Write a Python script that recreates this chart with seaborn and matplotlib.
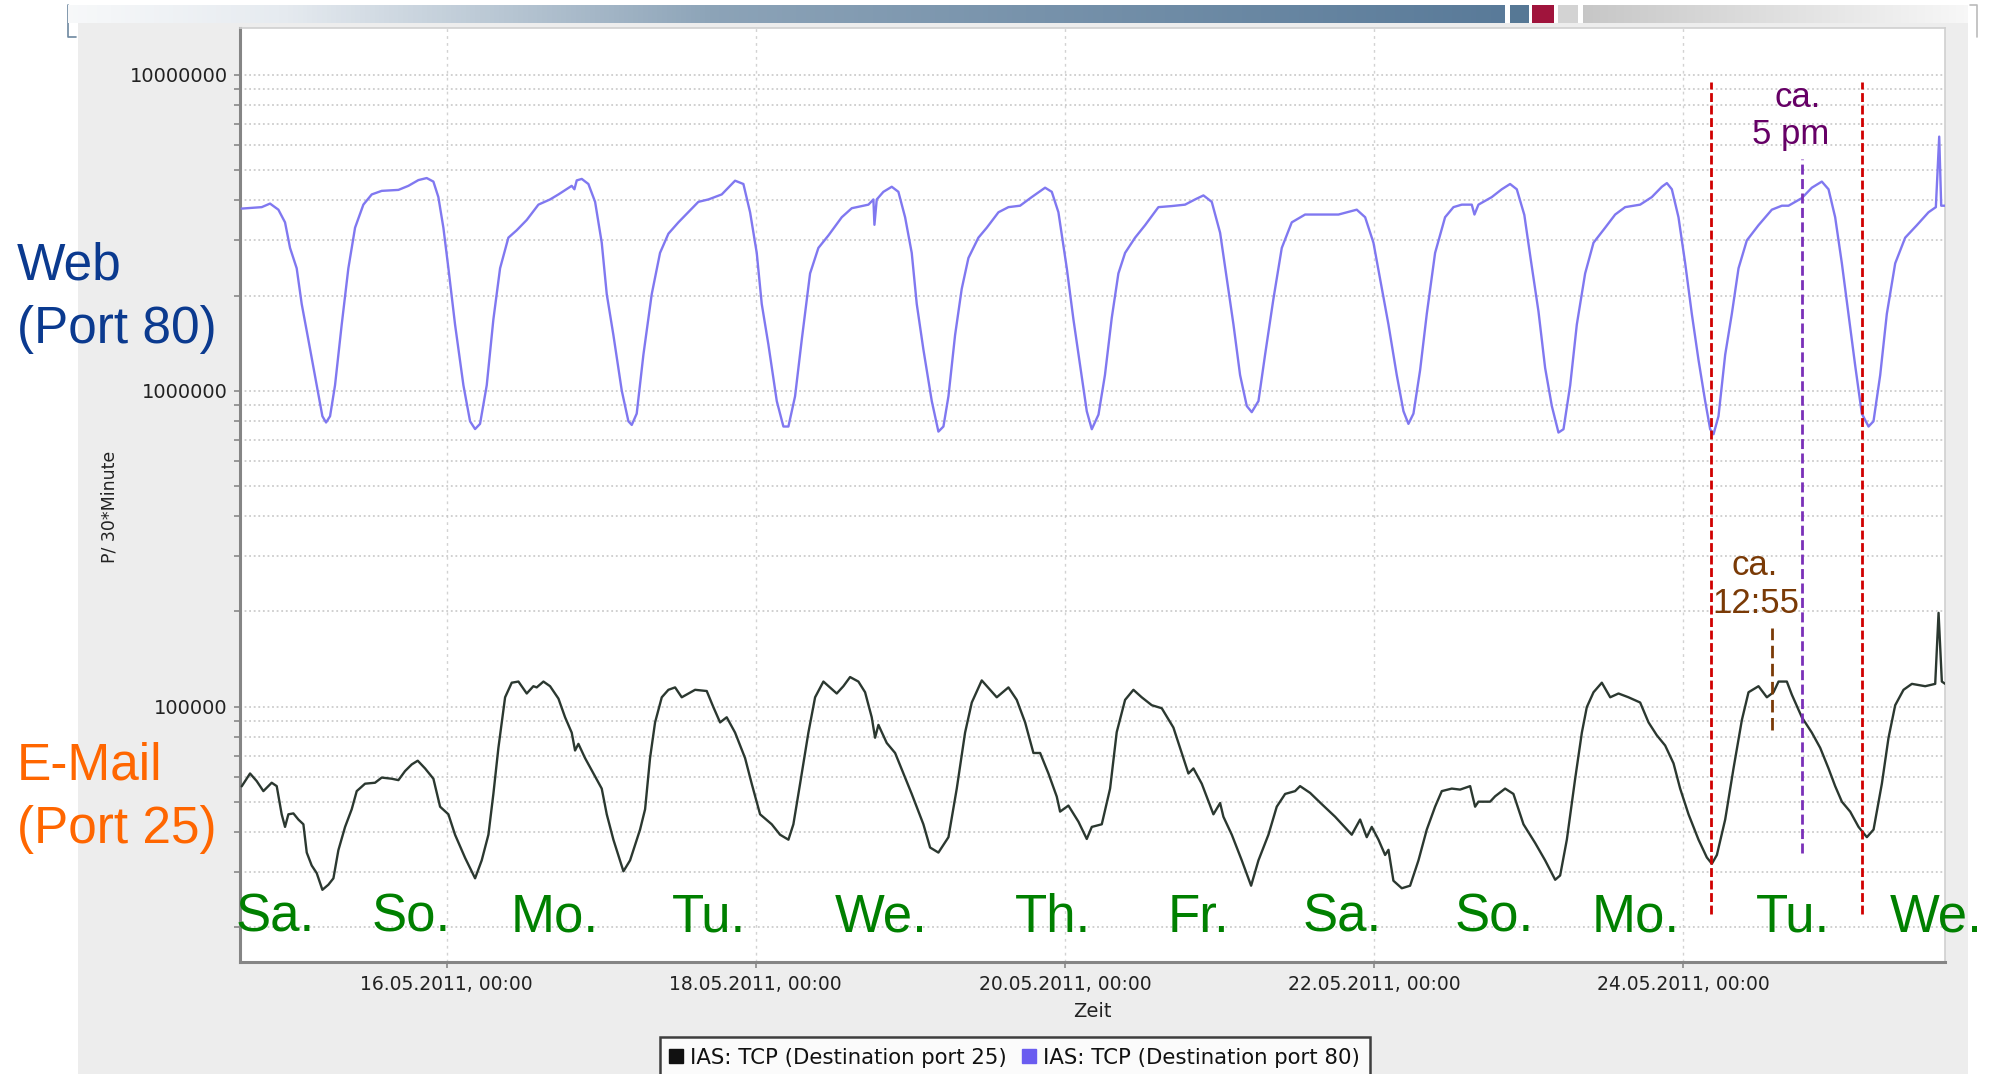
import numpy as np
import pandas as pd
import matplotlib
matplotlib.use("Agg")
import matplotlib.pyplot as plt
import matplotlib.dates as mdates
from matplotlib.lines import Line2D
from matplotlib.patches import Rectangle
from matplotlib.ticker import FixedLocator, FuncFormatter, NullFormatter, LogLocator
import seaborn as sns

# ---------------- data ----------------
BASE = "2011-05-16 00:00"          # hours below are relative to this instant

web_hours = [-31.8, -28.69, -27.4, -26.1, -25.07, -24.29, -23.26, -22.48, -21.45, -20.15,
             -19.27, -18.7, -18.08, -17.31, -16.27, -15.24, -14.2, -12.91, -11.61, -10.06,
             -7.47, -5.92, -4.37, -3.08, -2.04, -1.27, -0.49, 0.29, 1.32, 2.62,
             3.65, 4.43, 5.2, 6.24, 7.27, 8.31, 9.6, 10.9, 12.45, 14.26,
             16.07, 17.37, 19.43, 19.85, 20.21, 20.99, 22.02, 23.06, 24.09, 24.87,
             25.9, 27.2, 28.23, 28.75, 29.52, 30.56, 31.85, 33.14, 34.44, 35.99,
             39.09, 40.65, 42.72, 44.79, 46.08, 47.12, 48.15, 48.93, 49.96, 51.26,
             52.29, 53.07, 54.1, 55.14, 56.43, 57.72, 59.28, 61.35, 62.9, 65.49,
             66.26, 66.42, 66.78, 67.81, 69.11, 70.14, 71.18, 72.21, 72.99, 74.02,
             75.32, 76.35, 77.13, 77.91, 78.94, 79.97, 81.01, 82.56, 83.86, 85.67,
             87.22, 89.03, 90.84, 92.91, 93.95, 94.98, 96.28, 97.31, 98.35, 99.38,
             100.16, 101.2, 102.2, 103.26, 104.29, 105.33, 106.88, 108.43, 110.5, 112.57,
             114.64, 116.19, 117.49, 118.78, 120.08, 121.11, 122.15, 123.18, 124.22, 124.99,
             126.03, 127.06, 128.35, 129.65, 131.2, 133.27, 135.86, 138.45, 141.29, 142.59,
             143.88, 144.91, 146.21, 147.5, 148.54, 149.31, 150.09, 151.12, 152.16, 153.45,
             155.0, 156.3, 157.59, 159.14, 159.56, 160.18, 162.25, 163.8, 165.09, 166.13,
             167.3, 168.3, 169.5, 170.53, 171.57, 172.6, 173.38, 174.42, 175.45, 176.74,
             178.04, 179.85, 181.4, 182.95, 185.28, 187.09, 188.65, 189.43, 190.2, 191.23,
             192.27, 193.3, 194.34, 195.37, 196.15, 196.67, 197.44, 198.48, 199.51, 200.55,
             201.84, 203.65, 205.72, 207.28, 208.31, 210.38, 211.93, 213.48, 214.52, 215.55,
             216.59, 217.62, 218.66, 219.69, 220.73, 221.5, 222.54, 223.57, 224.87, 226.42,
             228.23, 230.04, 231.18, 231.7, 232.01, 232.63]
web_values = [3.77e6, 3.81e6, 3.91e6, 3.74e6, 3.41e6, 2.83e6, 2.44e6, 1.88e6, 1.45e6, 1.04e6,
              8.30e5, 7.93e5, 8.30e5, 1.04e6, 1.62e6, 2.44e6, 3.28e6, 3.88e6, 4.18e6, 4.29e6,
              4.32e6, 4.45e6, 4.64e6, 4.71e6, 4.59e6, 4.10e6, 3.28e6, 2.44e6, 1.62e6, 1.04e6,
              8.0e5, 7.56e5, 7.85e5, 1.04e6, 1.68e6, 2.44e6, 3.05e6, 3.22e6, 3.47e6, 3.88e6,
              4.03e6, 4.18e6, 4.45e6, 4.34e6, 4.63e6, 4.68e6, 4.51e6, 3.96e6, 2.94e6, 2.02e6,
              1.50e6, 1.0e6, 8.0e5, 7.79e5, 8.46e5, 1.30e6, 2.02e6, 2.73e6, 3.14e6, 3.41e6,
              3.96e6, 4.03e6, 4.18e6, 4.62e6, 4.51e6, 3.67e6, 2.73e6, 1.88e6, 1.40e6, 9.27e5,
              7.7e5, 7.7e5, 9.6e5, 1.45e6, 2.35e6, 2.83e6, 3.10e6, 3.54e6, 3.78e6, 3.88e6,
              4.03e6, 3.35e6, 4.03e6, 4.26e6, 4.42e6, 4.26e6, 3.54e6, 2.73e6, 1.88e6, 1.35e6,
              9.27e5, 7.42e5, 7.7e5, 9.6e5, 1.50e6, 2.10e6, 2.63e6, 3.05e6, 3.28e6, 3.67e6,
              3.81e6, 3.85e6, 4.10e6, 4.39e6, 4.26e6, 3.67e6, 2.44e6, 1.68e6, 1.20e6, 8.61e5,
              7.55e5, 8.4e5, 1.12e6, 1.70e6, 2.35e6, 2.73e6, 3.05e6, 3.34e6, 3.81e6, 3.84e6,
              3.88e6, 4.03e6, 4.15e6, 3.96e6, 3.16e6, 2.26e6, 1.62e6, 1.12e6, 8.94e5, 8.55e5,
              9.27e5, 1.30e6, 1.95e6, 2.83e6, 3.41e6, 3.61e6, 3.61e6, 3.61e6, 3.74e6, 3.54e6,
              2.94e6, 2.26e6, 1.62e6, 1.12e6, 8.61e5, 7.85e5, 8.46e5, 1.16e6, 1.75e6, 2.73e6,
              3.54e6, 3.81e6, 3.88e6, 3.88e6, 3.61e6, 3.88e6, 4.10e6, 4.34e6, 4.51e6, 4.34e6,
              3.6e6, 2.6e6, 1.78e6, 1.18e6, 8.94e5, 7.37e5, 7.55e5, 1.04e6, 1.62e6, 2.35e6,
              2.94e6, 3.28e6, 3.61e6, 3.81e6, 3.88e6, 4.10e6, 4.42e6, 4.54e6, 4.34e6, 3.54e6,
              2.53e6, 1.75e6, 1.25e6, 9.27e5, 7.55e5, 7.28e5, 8.30e5, 1.30e6, 1.75e6, 2.44e6,
              2.99e6, 3.34e6, 3.74e6, 3.85e6, 3.85e6, 4.07e6, 4.39e6, 4.59e6, 4.34e6, 3.54e6,
              2.53e6, 1.75e6, 1.20e6, 8.46e5, 7.7e5, 8.0e5, 1.12e6, 1.75e6, 2.53e6, 3.05e6,
              3.34e6, 3.67e6, 3.81e6, 6.37e6, 3.85e6, 3.85e6]

mail_hours = [-31.8, -30.5, -29.47, -28.43, -27.14, -26.36, -25.59, -25.07, -24.55, -23.77,
              -23.0, -22.22, -21.7, -20.93, -20.15, -19.27, -18.34, -17.56, -16.79, -15.75,
              -14.72, -13.94, -12.65, -11.1, -10.06, -8.51, -7.47, -6.44, -5.4, -4.47,
              -3.33, -2.04, -1.0, 0.29, 1.32, 2.88, 4.43, 5.46, 6.5, 7.27,
              8.05, 9.09, 10.12, 11.16, 12.45, 13.48, 14.0, 15.04, 16.07, 17.37,
              18.4, 19.43, 19.95, 20.47, 21.5, 22.8, 24.09, 24.87, 25.9, 27.46,
              28.49, 30.04, 30.82, 31.59, 32.37, 33.41, 34.44, 35.48, 36.51, 38.58,
              40.39, 41.42, 42.46, 43.49, 44.79, 46.34, 47.37, 48.67, 50.48, 51.77,
              53.07, 53.84, 54.88, 56.17, 57.21, 58.5, 60.57, 61.6, 62.64, 63.93,
              64.97, 66.0, 66.52, 67.04, 68.33, 69.63, 70.92, 72.21, 74.02, 75.06,
              76.35, 77.91, 79.2, 80.49, 81.53, 83.08, 84.37, 85.41, 87.22, 88.51,
              89.81, 91.1, 92.14, 93.43, 94.72, 95.24, 96.53, 98.09, 99.38, 100.16,
              101.71, 103.0, 104.03, 105.33, 106.62, 107.91, 109.47, 111.02, 112.83, 114.12,
              115.16, 115.94, 117.23, 119.04, 120.08, 120.59, 121.89, 123.44, 124.89, 126.03,
              127.58, 128.87, 130.17, 131.72, 132.49, 134.05, 135.86, 137.93, 140.51, 141.81,
              142.84, 143.62, 144.66, 145.69, 146.21, 146.98, 148.28, 149.57, 150.87, 152.16,
              153.45, 154.49, 156.04, 157.33, 158.89, 159.66, 160.18, 161.99, 162.77, 164.32,
              165.61, 167.17, 168.98, 170.53, 172.09, 172.86, 173.9, 175.19, 176.23, 177.0,
              178.04, 179.33, 180.63, 181.92, 183.47, 185.28, 186.58, 187.87, 189.16, 190.46,
              191.49, 192.79, 194.34, 195.63, 196.41, 197.19, 198.48, 199.77, 201.07, 202.1,
              203.65, 204.95, 205.98, 206.76, 208.05, 208.83, 210.38, 211.93, 213.23, 214.52,
              215.55, 216.59, 217.88, 219.18, 220.47, 221.51, 222.8, 223.83, 224.87, 226.16,
              227.46, 229.53, 231.08, 231.6, 232.11, 232.63]
mail_values = [5.59e4, 6.14e4, 5.81e4, 5.40e4, 5.74e4, 5.60e4, 4.56e4, 4.16e4, 4.56e4, 4.59e4,
               4.39e4, 4.24e4, 3.45e4, 3.14e4, 2.97e4, 2.63e4, 2.73e4, 2.86e4, 3.51e4, 4.16e4,
               4.73e4, 5.40e4, 5.70e4, 5.74e4, 5.96e4, 5.91e4, 5.85e4, 6.25e4, 6.56e4, 6.74e4,
               6.37e4, 5.91e4, 4.82e4, 4.56e4, 3.93e4, 3.32e4, 2.86e4, 3.26e4, 3.93e4, 5.29e4,
               7.40e4, 1.07e5, 1.19e5, 1.20e5, 1.10e5, 1.16e5, 1.15e5, 1.20e5, 1.16e5, 1.06e5,
               9.25e4, 8.27e4, 7.26e4, 7.62e4, 6.87e4, 6.14e4, 5.50e4, 4.56e4, 3.79e4, 3.01e4,
               3.26e4, 4.08e4, 4.73e4, 6.87e4, 8.91e4, 1.07e5, 1.13e5, 1.15e5, 1.07e5, 1.13e5,
               1.12e5, 9.96e4, 8.91e4, 9.25e4, 8.27e4, 6.87e4, 5.70e4, 4.56e4, 4.24e4, 3.93e4,
               3.79e4, 4.24e4, 5.70e4, 8.27e4, 1.07e5, 1.20e5, 1.10e5, 1.16e5, 1.24e5, 1.20e5,
               1.11e5, 9.25e4, 7.97e4, 8.75e4, 7.67e4, 7.13e4, 6.14e4, 5.29e4, 4.24e4, 3.58e4,
               3.45e4, 3.86e4, 5.50e4, 8.27e4, 1.03e5, 1.21e5, 1.13e5, 1.07e5, 1.15e5, 1.05e5,
               8.91e4, 7.13e4, 7.13e4, 6.14e4, 5.19e4, 4.65e4, 4.86e4, 4.32e4, 3.81e4, 4.16e4,
               4.24e4, 5.50e4, 8.30e4, 1.05e5, 1.13e5, 1.07e5, 1.01e5, 9.88e4, 8.58e4, 7.13e4,
               6.14e4, 6.37e4, 5.70e4, 4.56e4, 4.95e4, 4.48e4, 3.93e4, 3.26e4, 2.71e4, 3.26e4,
               3.93e4, 4.82e4, 5.29e4, 5.40e4, 5.60e4, 5.33e4, 4.91e4, 4.48e4, 3.93e4, 4.39e4,
               3.86e4, 4.16e4, 3.79e4, 3.39e4, 3.52e4, 2.81e4, 2.66e4, 2.71e4, 3.26e4, 4.08e4,
               4.82e4, 5.40e4, 5.50e4, 5.46e4, 5.60e4, 4.82e4, 5.00e4, 5.00e4, 5.20e4, 5.50e4,
               5.29e4, 4.24e4, 3.70e4, 3.26e4, 2.83e4, 2.92e4, 3.79e4, 5.91e4, 8.27e4, 9.96e4,
               1.11e5, 1.19e5, 1.07e5, 1.10e5, 1.07e5, 1.03e5, 8.91e4, 8.11e4, 7.53e4, 6.61e4,
               5.50e4, 4.56e4, 3.79e4, 3.33e4, 3.18e4, 3.39e4, 4.39e4, 6.37e4, 9.07e4, 1.11e5,
               1.16e5, 1.07e5, 1.11e5, 1.20e5, 1.20e5, 1.09e5, 9.25e4, 8.27e4, 7.40e4, 6.37e4,
               5.60e4, 5.00e4, 4.65e4, 4.16e4, 3.86e4, 4.08e4, 5.70e4, 7.96e4, 1.01e5, 1.13e5,
               1.18e5, 1.16e5, 1.18e5, 1.98e5, 1.20e5, 1.18e5]

series_names = ["IAS: TCP (Destination port 25)", "IAS: TCP (Destination port 80)"]
x_tick_labels = ["16.05.2011, 00:00", "18.05.2011, 00:00", "20.05.2011, 00:00",
                 "22.05.2011, 00:00", "24.05.2011, 00:00"]
y_tick_values = [100000, 1000000, 10000000]
x_range_hours = [-32.06, 232.6]
y_range = [1.554e4, 1.406e7]

day_labels = ["Sa.", "So.", "Mo.", "Tu.", "We.", "Th.", "Fr.", "Sa.", "So.", "Mo.", "Tu.", "We."]
day_label_hours = [-32.7, -11.6, 10.0, 35.0, 60.3, 88.2, 111.9, 132.9, 156.4, 177.8, 203.2, 224.1]
day_label_level = 1.934e4

red_line_hours = [196.3, 219.7]
red_line_span = [2.2e4, 9.5e6]
purple_line_hour = 210.4
purple_line_span = [3.45e4, 5.42e6]
brown_line_hour = 205.7
brown_line_span = [8.45e4, 1.77e5]

# ---------------- figure ----------------
sns.set_style("white")
plt.rcParams["font.family"] = ["DejaVu Sans"]

W, H = 1989, 1074
fig = plt.figure(figsize=(W / 100, H / 100), dpi=100, facecolor="white")


def fx(px):
    return px / W


def fy(py):
    return 1 - py / H


# grey application panel behind the chart
fig.add_artist(Rectangle((fx(78), 0), fx(1968) - fx(78), fy(23), transform=fig.transFigure,
                         facecolor="#ededed", edgecolor="none", zorder=-5))
# window frame lines
fig.add_artist(Line2D([fx(68), fx(68), fx(76)], [fy(5), fy(37), fy(37)], transform=fig.transFigure,
                      color="#6d88a0", lw=1.2, zorder=-4))
fig.add_artist(Line2D([fx(1970), fx(1977), fx(1977)], [fy(5), fy(5), fy(37)], transform=fig.transFigure,
                      color="#bbbbbb", lw=1.2, zorder=-4))

# top scroll bar (gradient decoration)
bar_ax = fig.add_axes([fx(68), fy(23), fx(1505) - fx(68), fy(5) - fy(23)])
bar_ax.axis("off")
anchors = np.array([[0.0, 0.97, 0.975, 0.98], [0.15, 0.90, 0.92, 0.94], [0.45, 0.55, 0.64, 0.72],
                    [1.0, 0.35, 0.48, 0.60]])
g = np.linspace(0, 1, 300)
grad = np.stack([np.interp(g, anchors[:, 0], anchors[:, i]) for i in (1, 2, 3)], axis=-1)
bar_ax.imshow(grad[None, :, :], aspect="auto", extent=(0, 1, 0, 1))
for (x0, x1, c) in [(1510, 1529, "#567895"), (1532, 1554, "#a0143c"), (1558, 1578, "#d3d3d3")]:
    fig.add_artist(Rectangle((fx(x0), fy(23)), fx(x1) - fx(x0), fy(5) - fy(23), transform=fig.transFigure,
                             facecolor=c, edgecolor="none", zorder=-3))
bar2 = fig.add_axes([fx(1583), fy(23), fx(1968) - fx(1583), fy(5) - fy(23)])
bar2.axis("off")
g2 = np.linspace(0.78, 0.97, 200)
bar2.imshow(np.stack([g2, g2, g2], axis=-1)[None, :, :], aspect="auto", extent=(0, 1, 0, 1))

# main axes
ax = fig.add_axes([fx(240), fy(962), fx(1945) - fx(240), fy(28) - fy(962)])
ax.set_facecolor("white")

base = pd.Timestamp(BASE)
df = pd.concat([
    pd.DataFrame({"Zeit": base + pd.to_timedelta(mail_hours, unit="h"), "value": mail_values,
                  "series": series_names[0]}),
    pd.DataFrame({"Zeit": base + pd.to_timedelta(web_hours, unit="h"), "value": web_values,
                  "series": series_names[1]}),
], ignore_index=True)

palette = {series_names[0]: "#2b3830", series_names[1]: "#8078f0"}
sns.lineplot(data=df, x="Zeit", y="value", hue="series", palette=palette, estimator=None,
             sort=False, legend=False, linewidth=1.7, ax=ax, zorder=3)

ax.set_yscale("log")
ax.set_ylim(*y_range)
ax.set_xlim(base + pd.Timedelta(hours=x_range_hours[0]), base + pd.Timedelta(hours=x_range_hours[1]))

ax.yaxis.set_major_locator(FixedLocator(y_tick_values))
ax.yaxis.set_major_formatter(FuncFormatter(lambda v, p: f"{int(round(v))}"))
ax.yaxis.set_minor_locator(LogLocator(base=10, subs=np.arange(2, 10)))
ax.yaxis.set_minor_formatter(NullFormatter())

tick_dates = pd.to_datetime(x_tick_labels, format="%d.%m.%Y, %H:%M")
ax.set_xticks(tick_dates)
ax.set_xticklabels(x_tick_labels)

ax.grid(True, axis="y", which="both", color="#c4c4c4", linestyle=(0, (1.2, 1.8)), linewidth=1.1, zorder=0)
ax.grid(True, axis="x", which="major", color="#d2d2d2", linestyle=(0, (2, 3)), linewidth=1.0, zorder=0)

ax.tick_params(axis="both", which="both", direction="out", length=4, width=1.2, color="#888888",
               labelcolor="#222222", pad=5, left=True, bottom=True)
ax.tick_params(axis="x", which="major", labelsize=13.5)
ax.tick_params(axis="y", which="major", labelsize=14)
ax.tick_params(axis="x", which="minor", bottom=False)

for side in ("left", "bottom"):
    ax.spines[side].set_color("#858585")
    ax.spines[side].set_linewidth(2.2)
for side in ("top", "right"):
    ax.spines[side].set_color("#cfcfcf")
    ax.spines[side].set_linewidth(1.2)

ax.set_ylabel("P/ 30*Minute", fontsize=12.5, color="#222222")
ax.yaxis.set_label_coords(-0.0713, 0.487)
ax.set_xlabel("Zeit", fontsize=14, color="#222222")
ax.xaxis.set_label_coords(0.5, -0.043)


def tn(h):
    return mdates.date2num(base + pd.Timedelta(hours=h))


# vertical marker lines
for h in red_line_hours:
    ax.vlines(tn(h), red_line_span[0], red_line_span[1], colors="#d00000",
              linestyles=(0, (3.2, 1.3)), linewidth=2.0, zorder=4)
ax.vlines(tn(purple_line_hour), purple_line_span[0], purple_line_span[1], colors="#7a30b8",
          linestyles=(0, (3.6, 1.6)), linewidth=2.0, zorder=4)
ax.vlines(tn(brown_line_hour), brown_line_span[0], brown_line_span[1], colors="#7a3a06",
          linestyles=(0, (4.5, 2.0)), linewidth=2.0, zorder=4)

ann_font = ["Liberation Sans", "DejaVu Sans"]
ax.text(tn(209.8), 7.91e6, "ca.", color="#660066", fontsize=25, family=ann_font,
        ha="center", va="baseline", zorder=5)
ax.text(tn(208.7), 6.04e6, "5 pm", color="#660066", fontsize=25, family=ann_font,
        ha="center", va="baseline", zorder=5)
ax.text(tn(203.1), 2.61e5, "ca.", color="#7a3a06", fontsize=25, family=ann_font,
        ha="center", va="baseline", zorder=5)
ax.text(tn(203.3), 1.98e5, "12:55", color="#7a3a06", fontsize=25, family=ann_font,
        ha="center", va="baseline", zorder=5)

for lab, h in zip(day_labels, day_label_hours):
    ax.text(tn(h), day_label_level, lab, color="#008000", fontsize=38, family=ann_font,
            ha="left", va="baseline", clip_on=False, zorder=6)

# series labels on the left
fig.text(fx(17), fy(280), "Web", color="#0b3a8f", fontsize=37, family=ann_font,
         ha="left", va="baseline", zorder=10)
fig.text(fx(17), fy(343), "(Port 80)", color="#0b3a8f", fontsize=37, family=ann_font,
         ha="left", va="baseline", zorder=10)
fig.text(fx(17), fy(780), "E-Mail", color="#ff6600", fontsize=37, family=ann_font,
         ha="left", va="baseline", zorder=10)
fig.text(fx(17), fy(843), "(Port 25)", color="#ff6600", fontsize=37, family=ann_font,
         ha="left", va="baseline", zorder=10)

# legend
handles = [Line2D([], [], linestyle="none", marker="s", markersize=10,
                  markerfacecolor=palette[n], markeredgecolor=palette[n]) for n in series_names]
handles[0].set_markerfacecolor("#111111")
handles[0].set_markeredgecolor("#111111")
handles[1].set_markerfacecolor("#6a5cf0")
handles[1].set_markeredgecolor("#6a5cf0")
leg = fig.legend(handles, series_names, loc="upper left", bbox_to_anchor=(fx(660), fy(1037)),
                 ncol=2, frameon=True, fancybox=False, fontsize=15.3, handlelength=0.55,
                 handletextpad=0.35, columnspacing=0.8, borderpad=0.5, borderaxespad=0)
leg.get_frame().set_edgecolor("#111111")
leg.get_frame().set_linewidth(1.8)
leg.get_frame().set_facecolor("white")
for t in leg.get_texts():
    t.set_color("#111111")

fig.savefig("out.png", dpi=100, facecolor="white")
